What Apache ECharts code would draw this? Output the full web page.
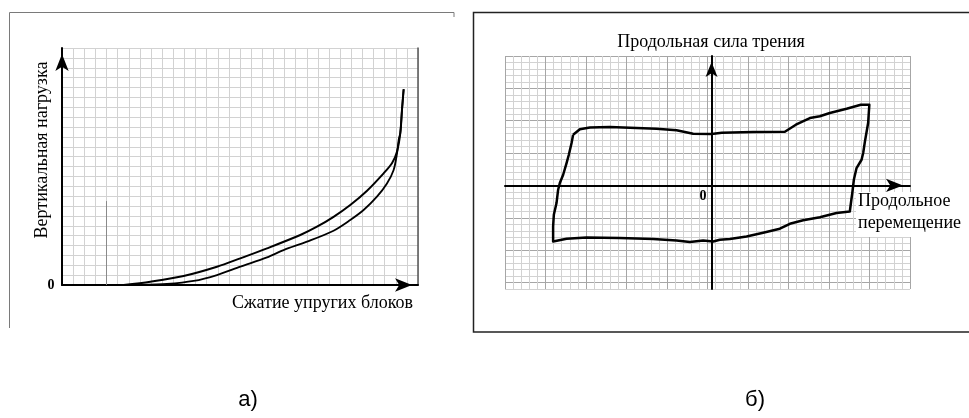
<!DOCTYPE html>
<html>
<head>
<meta charset="utf-8">
<script src="https://cdn.jsdelivr.net/npm/echarts@6/dist/echarts.min.js"></script>
<style>html,body{margin:0;padding:0;background:#fff}#c{width:969px;height:418px}</style>
</head>
<body>
<div id="c"></div>
<script>
// Panel a: loading / unloading curves (x: grid cells, y: grid cells)
const loadX   = [5.54, 7.94, 10.93, 13.93, 16.03, 18.43, 21.42, 22.92, 24.41, 25.91, 27.42, 28.91, 29.66, 30.11, 30.41, 30.56, 30.71];
const loadY   = [0, 0.34, 0.91, 1.85, 2.70, 3.71, 5.06, 5.90, 6.90, 8.10, 9.55, 11.31, 12.32, 13.50, 15.40, 17.72, 19.82];
const unloadX = [7.04, 9.44, 11.83, 13.93, 16.03, 18.43, 19.92, 22.02, 24.41, 25.91, 27.11, 28.31, 29.21, 29.81, 30.11, 30.26, 30.41, 30.56, 30.71];
const unloadY = [0, 0.10, 0.41, 1.01, 1.86, 2.80, 3.54, 4.39, 5.50, 6.58, 7.59, 8.94, 10.28, 11.65, 13.30, 14.68, 15.40, 17.72, 19.82];
const markX = [4, 4];
const markY = [0, 8.5];

// Panel b: friction hysteresis loop
const loopX = [-17.09, -16.26, -15.02, -12.56, -9.26, -6.79, -4.32, -2.27, 0, 1.27, 5.14, 9.05, 10.41, 12.14, 13.37, 14.60, 16.67, 18.43, 19.48,
  19.33, 18.93, 18.72, 18.52, 17.90, 17.57, 17.38, 17.26, 17.07,
  15.43, 13.37, 11.31, 9.67, 8.43, 6.37, 4.32, 2.26, 1.02, 0.20, -1.04, -2.68, -4.32, -7.21, -11.32, -15.43, -17.90, -19.56,
  -19.56, -19.47, -19.14, -18.94, -18.73, -18.32, -17.90, -17.62, -17.28, -17.09];
const loopY = [7.83, 8.68, 8.96, 9.02, 8.87, 8.76, 8.53, 7.99, 7.94, 8.14, 8.25, 8.30, 9.38, 10.41, 10.69, 11.19, 11.85, 12.47, 12.47,
  9.64, 6.75, 5.01, 3.97, 2.69, 0.88, -1.13, -2.21, -4.02,
  -4.26, -4.91, -5.38, -5.92, -6.69, -7.31, -7.88, -8.28, -8.39, -8.65, -8.50, -8.75, -8.50, -8.28, -8.13, -8.03, -8.24, -8.65,
  -6.33, -4.53, -2.72, -0.66, 0.37, 1.65, 3.46, 4.74, 6.55, 7.83];

const zip = (xs, ys) => xs.map((x, i) => [x, ys[i]]);

const serif = 'Liberation Serif';
const light = '#d2d2d2', dark = '#a6a6a6';

function txt(text, x, y, opts) {
  return Object.assign({type: 'text', x: x, y: y, z: 70,
    style: Object.assign({text: text, fontFamily: serif, fontSize: 18, fill: '#000',
      textAlign: 'center', textVerticalAlign: 'middle'}, opts.style || {})}, opts.el || {});
}

const chart = echarts.init(document.getElementById('c'), null, {renderer: 'canvas'});
chart.setOption({
  animation: false,
  backgroundColor: '#fff',
  grid: [
    {left: 62, top: 48, right: 551, bottom: 133},
    {left: 505, top: 56, right: 59, bottom: 129}
  ],
  xAxis: [
    {type: 'value', gridIndex: 0, min: 0, max: 32, interval: 1,
     axisLine: {show: true, lineStyle: {color: '#000', width: 2}, symbol: ['none', 'arrow'], symbolSize: [10, 17], symbolOffset: [0, -6]},
     axisTick: {show: false}, axisLabel: {show: false},
     splitLine: {show: true, lineStyle: {color: light, width: 1}}},
    {type: 'value', gridIndex: 1, min: -25.5, max: 24.5, interval: 1,
     axisLine: {show: true, onZero: true, lineStyle: {color: '#000', width: 2}, symbol: ['none', 'arrow'], symbolSize: [10, 17], symbolOffset: [0, -7]},
     axisTick: {show: false}, axisLabel: {show: false},
     splitLine: {show: true, lineStyle: {color: [dark, light, light, light, light], width: 1}}}
  ],
  yAxis: [
    {type: 'value', gridIndex: 0, min: 0, max: 24, interval: 1,
     axisLine: {show: true, lineStyle: {color: '#000', width: 2}, symbol: ['none', 'arrow'], symbolSize: [10, 17], symbolOffset: [0, -6]},
     axisTick: {show: false}, axisLabel: {show: false},
     splitLine: {show: true, lineStyle: {color: light, width: 1}}},
    {type: 'value', gridIndex: 1, min: -16, max: 20, interval: 1,
     axisLine: {show: true, onZero: true, lineStyle: {color: '#000', width: 2}, symbol: ['none', 'arrow'], symbolSize: [9, 15], symbolOffset: [0, -6]},
     axisTick: {show: false}, axisLabel: {show: false},
     splitLine: {show: true, lineStyle: {color: [light, dark, light, light, light], width: 1}}},
    {type: 'value', gridIndex: 0, min: 0, max: 24, position: 'right',
     axisLine: {show: true, onZero: false, lineStyle: {color: '#555', width: 1.5}},
     axisTick: {show: false}, axisLabel: {show: false}, splitLine: {show: false}}
  ],
  series: [
    {type: 'line', xAxisIndex: 0, yAxisIndex: 0, data: zip(markX, markY), showSymbol: false,
     lineStyle: {color: '#8a8a8a', width: 1}, z: 1},
    {type: 'line', xAxisIndex: 0, yAxisIndex: 0, data: zip(loadX, loadY), showSymbol: false, smooth: 0.3,
     lineStyle: {color: '#000', width: 2}},
    {type: 'line', xAxisIndex: 0, yAxisIndex: 0, data: zip(unloadX, unloadY), showSymbol: false, smooth: 0.3,
     lineStyle: {color: '#000', width: 1.8}},
    {type: 'line', xAxisIndex: 1, yAxisIndex: 1, data: zip(loopX, loopY), showSymbol: false,
     lineStyle: {color: '#000', width: 2.5, join: 'round'}}
  ],
  graphic: [
    {type: 'polyline', shape: {points: [[9.5, 328], [9.5, 12.5], [454, 12.5], [454, 17]]}, style: {stroke: '#7a7a7a', lineWidth: 1, fill: null}, z: 50},
    {type: 'polyline', shape: {points: [[969, 12.5], [473.5, 12.5], [473.5, 332], [969, 332]]}, style: {stroke: '#222', lineWidth: 1.5, fill: null}, z: 50},
    {type: 'rect', shape: {x: 856, y: 192, width: 56, height: 45}, style: {fill: '#fff'}, z: 60},
    txt('Вертикальная нагрузка', 42, 150, {el: {rotation: Math.PI / 2}}),
    txt('Сжатие упругих блоков', 413, 303, {style: {textAlign: 'right'}}),
    txt('0', 51, 285, {style: {fontSize: 14, fontWeight: 'bold'}}),
    txt('Продольная сила трения', 711, 42, {}),
    txt('0', 703, 196, {style: {fontSize: 14, fontWeight: 'bold'}}),
    txt('Продольное', 858, 201, {style: {textAlign: 'left'}}),
    txt('перемещение', 858, 223, {style: {textAlign: 'left'}}),
    txt('а)', 248, 400, {style: {fontFamily: 'Liberation Sans', fontSize: 22}}),
    txt('б)', 755, 400, {style: {fontFamily: 'Liberation Sans', fontSize: 22}})
  ]
});
</script>
</body>
</html>
